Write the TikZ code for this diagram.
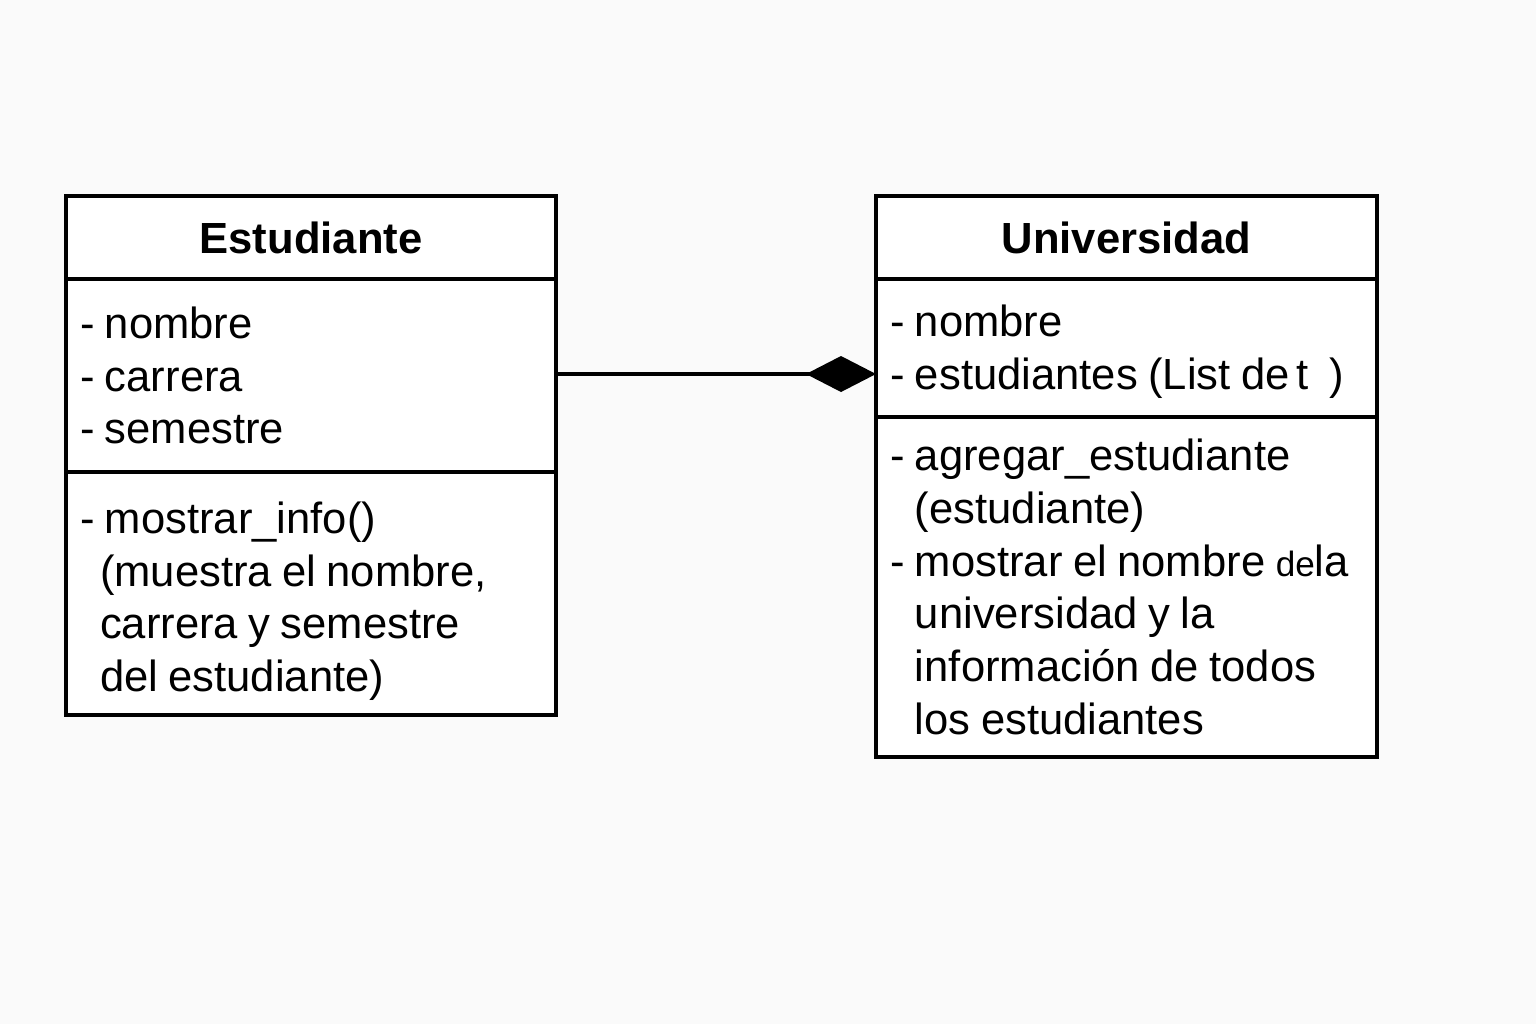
\documentclass[tikz,border=0pt]{standalone}
\usepackage{fontspec}
\setmainfont{Liberation Sans}
\usetikzlibrary{positioning,arrows.meta}
\definecolor{fondo}{RGB}{250,250,250}
\DeclareRobustCommand\espaciado{\spaceskip=0.24em plus 0.1em minus 0.05em\relax}
\tikzset{
  titulo/.style={draw, line width=1pt, fill=white, anchor=north west, inner sep=0pt, outer sep=0pt,
    font=\fontsize{12.4}{15}\selectfont\bfseries, align=center, minimum height=0.83cm},
  compart/.style={draw, line width=1pt, fill=white, anchor=north, inner xsep=0.14cm, inner ysep=0pt, outer sep=0pt,
    font=\fontsize{12.4}{15}\selectfont, align=left},
}
\begin{document}
\begin{tikzpicture}
  \fill[fondo] (0,0) rectangle (15.36,-10.24);
  \useasboundingbox (0,0) rectangle (15.36,-10.24);
  % clase Estudiante
  \node[titulo, text width=4.9cm] (esttit) at (0.66,-1.96) {Estudiante};
  \node[compart, text width=4.62cm, minimum height=1.93cm] (estatr) at (esttit.south)
    {\espaciado- nombre\\- carrera\\- semestre};
  \node[compart, text width=4.62cm, minimum height=2.43cm] (estmet) at (estatr.south)
    {\espaciado\rule{0pt}{0.47cm}- mostrar\_info()\\\hspace*{0.2cm}(muestra el nombre,\\\hspace*{0.2cm}carrera y semestre\\\hspace*{0.2cm}del estudiante)};
  % clase Universidad
  \node[titulo, text width=5.01cm] (unitit) at (8.76,-1.96) {Universidad};
  \node[compart, text width=4.73cm, minimum height=1.38cm] (uniatr) at (unitit.south)
    {\espaciado\rule{0pt}{0.39cm}- nombre\\- estudiantes (List\ de\,t\ \ )};
  \node[compart, text width=4.73cm, minimum height=3.40cm] (unimet) at (uniatr.south)
    {\espaciado- agregar\_estudiante\\\phantom{-\ }(estudiante)\\- mostrar el nombre {\fontsize{10}{15}\selectfont de}la\\\phantom{-\ }universidad y la\\\phantom{-\ }información de todos\\\phantom{-\ }los estudiantes};
  % composicion
  \draw[line width=1pt, -{Diamond[length=0.7cm, width=0.36cm]}]
    ([yshift=0.015cm]estatr.east) -- ([yshift=0.015cm]estatr.east -| uniatr.west);
\end{tikzpicture}
\end{document}
